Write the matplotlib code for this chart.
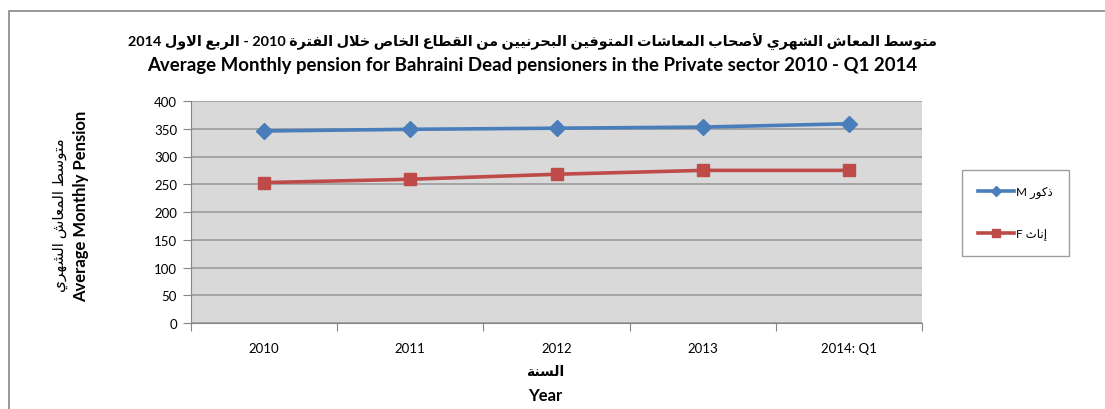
import matplotlib
matplotlib.use("Agg")
import matplotlib.pyplot as plt
from matplotlib.patches import Rectangle

plt.rcParams['font.family'] = ['Lato', 'DejaVu Sans']

#%% DATA
years = ["2010", "2011", "2012", "2013", "2014: Q1"]
male = [346, 349, 351, 353, 359]
female = [253, 259, 268, 275, 275]
yticks = [0, 50, 100, 150, 200, 250, 300, 350, 400]

title_ar = "متوسط المعاش الشهري لأصحاب المعاشات المتوفين البحرنيين من القطاع الخاص خلال الفترة 2010 - الربع الاول 2014"
title_en = "Average Monthly pension for Bahraini Dead pensioners in the Private sector 2010 - Q1 2014"
ylabel_ar = "متوسط المعاش الشهري"
ylabel_en = "Average Monthly Pension"
xlabel_ar = "السنة"
xlabel_en = "Year"
male_ar, female_ar = "ذكور", "إناث"

#%% ARABIC SHAPING (matplotlib has no bidi/shaping, so do it by hand)
FORMS = {
    'ا': (0xFE8D, 0xFE8E), 'أ': (0xFE83, 0xFE84), 'إ': (0xFE87, 0xFE88),
    'ة': (0xFE93, 0xFE94), 'د': (0xFEA9, 0xFEAA), 'ذ': (0xFEAB, 0xFEAC),
    'ر': (0xFEAD, 0xFEAE), 'و': (0xFEED, 0xFEEE),
}
for ch, base in [('ب', 0xFE8F), ('ت', 0xFE95), ('ث', 0xFE99), ('ح', 0xFEA1), ('خ', 0xFEA5),
                 ('س', 0xFEB1), ('ش', 0xFEB5), ('ص', 0xFEB9), ('ط', 0xFEC1), ('ع', 0xFEC9),
                 ('ف', 0xFED1), ('ق', 0xFED5), ('ك', 0xFED9), ('ل', 0xFEDD), ('م', 0xFEE1),
                 ('ن', 0xFEE5), ('ه', 0xFEE9), ('ي', 0xFEF1)]:
    FORMS[ch] = (base, base + 1, base + 2, base + 3)
LAM_ALEF = {'ا': (0xFEFB, 0xFEFC), 'أ': (0xFEF7, 0xFEF8), 'إ': (0xFEF9, 0xFEFA)}


def shape_word(word):
    letters = []
    i = 0
    while i < len(word):
        if word[i] == 'ل' and i + 1 < len(word) and word[i + 1] in LAM_ALEF:
            letters.append(('la', LAM_ALEF[word[i + 1]]))
            i += 2
        else:
            letters.append((word[i], FORMS.get(word[i])))
            i += 1
    out = []
    for k, (ch, forms) in enumerate(letters):
        if forms is None:
            out.append(ch)
            continue
        prev = letters[k - 1][1] if k > 0 else None
        nxt = letters[k + 1][1] if k + 1 < len(letters) else None
        jp = prev is not None and len(prev) == 4
        jn = len(forms) == 4 and nxt is not None
        if jp and jn:
            code = forms[3]
        elif jn:
            code = forms[2]
        elif jp:
            code = forms[1]
        else:
            code = forms[0]
        out.append(chr(code))
    return ''.join(out)


def ar(text):
    # right-to-left word order, each arabic word shaped and reversed
    words = []
    for w in reversed(text.split(' ')):
        if any(c in FORMS for c in w):
            words.append(shape_word(w)[::-1])
        else:
            words.append(w)
    return ' '.join(words)


#%% FIGURE
W, H = 1105, 410
fig = plt.figure(figsize=(W / 100, H / 100), dpi=100)


def fx(px):
    return px / W


def fy(py):
    return 1 - py / H


# chart border
fig.patches.append(Rectangle((fx(9), -0.1), 1.2, fy(12) + 0.1, transform=fig.transFigure,
                             fill=False, edgecolor='#868686', lw=1.2))

ax = fig.add_axes([fx(191), fy(324), fx(922) - fx(191), fy(102) - fy(324)])
ax.set_facecolor('#D9D9D9')

x = range(len(years))
ax.plot(x, male, color='#4A7EBB', lw=2.6, marker='D', ms=8, label='M ' + ar(male_ar), zorder=3)
ax.plot(x, female, color='#BE4B48', lw=2.6, marker='s', ms=9, label='F ' + ar(female_ar), zorder=3)

ax.set_xlim(-0.5, len(years) - 0.5)
ax.set_ylim(0, 400)
ax.set_yticks(yticks)
ax.yaxis.grid(True, color='#A0A0A0', lw=1.3)
ax.set_axisbelow(True)

# category labels in the middle, tick marks on the boundaries
ax.set_xticks([i - 0.5 for i in range(len(years) + 1)])
ax.set_xticklabels([])
ax.set_xticks(list(x), minor=True)
ax.set_xticklabels(years, minor=True)
ax.tick_params(axis='x', which='major', length=6, color='#868686', direction='out')
ax.tick_params(axis='x', which='minor', length=0, pad=14, labelsize=9.5)
ax.tick_params(axis='y', length=6, color='#868686', labelsize=9.5, pad=4)

for s in ['top', 'right']:
    ax.spines[s].set_visible(False)
for s in ['left', 'bottom']:
    ax.spines[s].set_color('#868686')

fig.text(fx(532), fy(42), ar(title_ar), ha='center', va='center', fontsize=10.4, fontweight='bold')
fig.text(fx(532), fy(66), title_en, ha='center', va='center', fontsize=13.4, fontweight='bold')

fig.text(fx(60), fy(215), ar(ylabel_ar), ha='center', va='center', rotation=90, fontsize=11)
fig.text(fx(81), fy(206), ylabel_en, ha='center', va='center', rotation=90, fontsize=12, fontweight='bold')

fig.text(fx(545), fy(372), ar(xlabel_ar), ha='center', va='center', fontsize=10, fontweight='bold')
fig.text(fx(545), fy(396), xlabel_en, ha='center', va='center', fontsize=12, fontweight='bold')

leg = ax.legend(loc='center left', bbox_to_anchor=(fx(956), fy(214)), bbox_transform=fig.transFigure,
                fontsize=8.5, frameon=True, fancybox=False, edgecolor='#868686', markerscale=0.6,
                handlelength=3.0, labelspacing=2.5, borderpad=1.4, handletextpad=0.2)
leg.get_frame().set_linewidth(1.0)

fig.savefig("out.png", dpi=100)
